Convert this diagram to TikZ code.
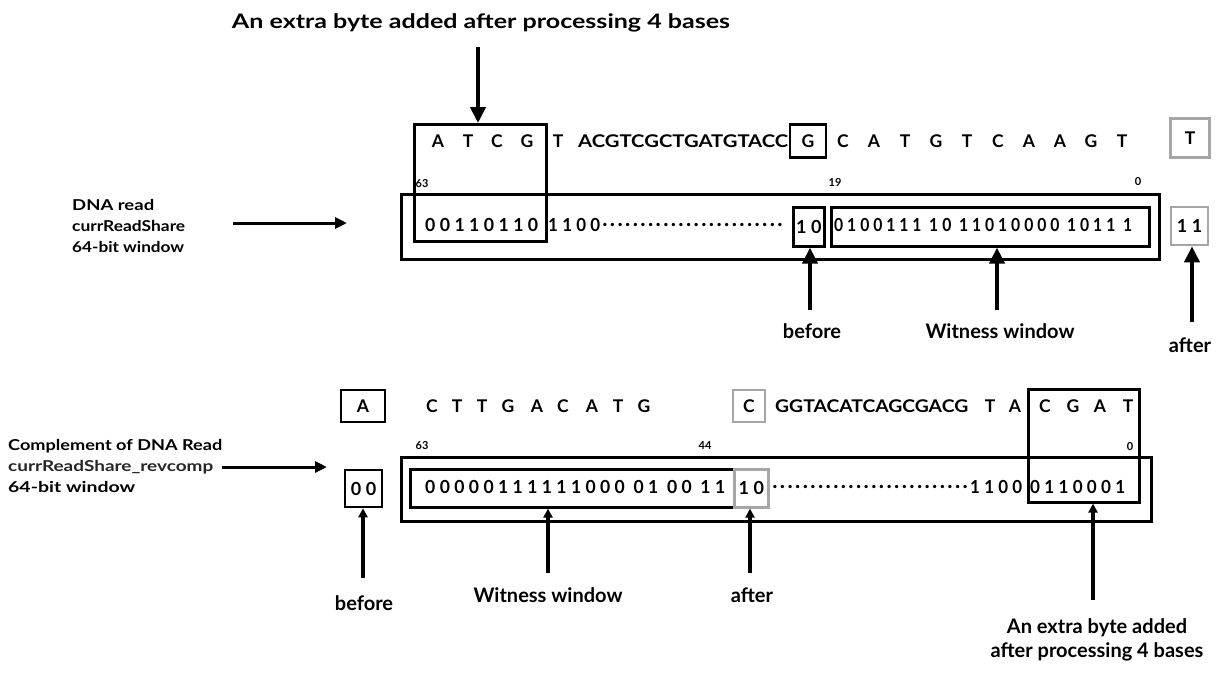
\documentclass[tikz,border=0pt]{standalone}
\usepackage{fontspec}
\setmainfont{Lato}
\newfontfamily\spfont[LetterSpace=25]{Lato}
\usetikzlibrary{arrows.meta}
\newcommand{\fw}[2]{\resizebox{#1pt}{\height}{#2}}
\newcommand{\dotrun}[1]{\hbox to #1pt{\leaders\hbox to 7.6pt{\hss.\hss}\hfill}}
\begin{document}
\begin{tikzpicture}[x=1pt,y=-1pt,
  box/.style={draw, line width=2.6pt, inner sep=0pt},
  gbox/.style={draw=gray!70, line width=2.6pt, inner sep=0pt},
  obox/.style={draw, line width=3.2pt, inner sep=0pt},
  lab/.style={font=\fontsize{20}{24}\selectfont\bfseries, inner sep=0pt},
  seq/.style={font=\fontsize{17.5}{20}\selectfont\bfseries, inner sep=0pt},
  bits/.style={font=\fontsize{18}{20}\selectfont\spfont\bfseries, inner sep=0pt},
  num/.style={font=\fontsize{11}{12}\selectfont\bfseries, inner sep=0pt},
  side/.style={font=\fontsize{15}{21}\selectfont\bfseries, inner sep=0pt, align=left, anchor=west},
  bigarrow/.style={line width=3.8pt, -{Triangle[width=15pt,length=16pt]}},
  smallarrow/.style={line width=3.6pt, -{Triangle[width=9pt,length=9pt]}},
  sidearrow/.style={line width=3pt, -{Triangle[width=11pt,length=12pt]}},
]
\useasboundingbox[fill=white] (0,0) rectangle (1218,673);

% ---------- top part ----------
\node[lab] (title) at (481,23) {\fw{498}{An extra byte added after processing 4 bases}};
\node[box, minimum width=132, minimum height=117, anchor=north west] (atcg) at (413,123) {};
\coordinate (tA) at (478,47);
\draw[bigarrow] (tA) -- (tA |- atcg.north);

\foreach \l/\x [count=\i] in {A/438,T/468,C/497,G/527}
  \node[seq] (s\i) at (\x,141) {\l};
\node[seq] (sT) at (558,141) {T};
\node[seq, anchor=west] (smid) at (578,141) {\fw{210}{ACGTCGCTGATGTACC}};
\node[box, seq, minimum width=36, minimum height=33] (gbx) at (808,141) {G};
\foreach \l [count=\i] in {C,A,T,G,T,C,A,A,G,T}
  \node[seq] (r\i) at ({812+\i*31},141) {\l};
\node[gbox, seq, minimum width=39, minimum height=39] (tbx) at (1190,138) {T};

\node[num] (n63) at (422,184) {63};
\node[num] (n19) at (835,182) {19};
\node[num] (n0) at (1138,182) {0};

\node[obox, minimum width=758, minimum height=65, anchor=north west] (win1) at (400,193) {};
\node[bits, anchor=west] (b1) at (425,225) {\fw{113}{00110110}};
\node[bits, anchor=west] (b2) at (548,225) {\fw{52}{1100}};
\node[bits, anchor=west] (b3) at (601,225) {\fontsize{22}{22}\selectfont\dotrun{188}};
\node[box, minimum width=31, minimum height=39, anchor=north west] (bef1) at (792,206) {};
\node[bits] (bef1t) at (bef1) {10};
\node[box, minimum width=318, minimum height=39, anchor=north west] (wit1) at (830,206) {};
\node[bits, anchor=west] (wit1t) at (834,225) {\fw{298}{0100111 10 11010000 1011 1}};
\node[gbox, minimum width=37, minimum height=38] (aft1) at (1189.5,226) {};
\node[bits] (aft1t) at (aft1) {11};

\coordinate (a1) at (810,310);
\draw[bigarrow] (a1) -- (a1 |- bef1.south);
\node[lab] (l1) at (812,331) {before};
\coordinate (a2) at (997,310);
\draw[bigarrow] (a2) -- (a2 |- wit1.south);
\node[lab] (l2) at (1000,331) {Witness window};
\coordinate (a3) at (1192,322);
\draw[bigarrow] (a3) -- (a3 |- aft1.south);
\node[lab] (l3) at (1190,345) {after};

\node[side] (dl1) at (72,226) {\fw{82}{DNA read}\\\fw{113}{currReadShare}\\\fw{112}{64-bit window}};
\coordinate (la1) at (233,223);
\coordinate (la2) at (347,223);
\draw[sidearrow] (la1) -- (la2);

% ---------- bottom part ----------
\node[box, seq, minimum width=44, minimum height=32] (abx) at (363,406) {A};
\foreach \l/\x [count=\i] in {C/432,T/457,T/482,G/508,A/537,C/563,A/592,T/618,G/644}
  \node[seq] (q\i) at (\x,406) {\l};
\node[gbox, seq, minimum width=32, minimum height=32] (cbx) at (749,406) {C};
\node[seq, anchor=west] (qmid) at (775,406) {\fw{193}{GGTACATCAGCGACG}};
\node[seq] (qT) at (990,406) {T};
\node[seq] (qA) at (1015,406) {A};
\node[box, minimum width=111, minimum height=113, anchor=north west] (cgat) at (1027,388) {};
\foreach \l/\x [count=\i] in {C/1045,G/1073,A/1100,T/1128}
  \node[seq] (p\i) at (\x,406) {\l};

\node[num] (m63) at (422,446) {63};
\node[num] (m44) at (705,446) {44};
\node[num] (m0) at (1130,447) {0};

\node[obox, minimum width=750, minimum height=64, anchor=north west] (win2) at (400,456) {};
\node[box, minimum width=37, minimum height=37] (bef2) at (363.5,488.5) {};
\node[bits] (bef2t) at (bef2) {00};
\node[box, minimum width=324, minimum height=38, anchor=north west] (wit2) at (409,468) {};
\node[bits, anchor=west] (wit2t) at (425,487) {\fw{300}{00000111111000 01 00 11}};
\node[gbox, minimum width=34, minimum height=38, anchor=north west] (aft2) at (733,468) {};
\node[bits] (aft2t) at (aft2) {10};
\node[bits, anchor=west] (d2) at (771,487) {\fontsize{22}{22}\selectfont\dotrun{198}};
\node[bits, anchor=west] (e2) at (970,487) {\fw{52}{1100}};
\node[bits, anchor=west] (f2) at (1030,487) {\fw{95}{0110001}};

\coordinate (c1) at (363,578);
\draw[smallarrow] (c1) -- (c1 |- bef2.south);
\node[lab] (k1) at (364,603) {before};
\coordinate (c2) at (548,573);
\draw[smallarrow] (c2) -- (c2 |- wit2.south);
\node[lab] (k2) at (548,595) {Witness window};
\coordinate (c3) at (750,573);
\draw[smallarrow] (c3) -- (c3 |- aft2.south);
\node[lab] (k3) at (752,595) {after};
\coordinate (c4) at (1093,600);
\draw[smallarrow] (c4) -- (c4 |- cgat.south);
\node[lab, align=center] (k4) at (1097,640) {An extra byte added\\after processing 4 bases};

\node[side] (dl2) at (8,466) {\fw{214}{Complement of DNA Read}\\\textcolor{gray!30!black}{\fw{205}{currReadShare\_revcomp}}\\\fw{127}{64-bit window}};
\coordinate (lb1) at (222,467);
\coordinate (lb2) at (327,467);
\draw[sidearrow] (lb1) -- (lb2);
\end{tikzpicture}
\end{document}
